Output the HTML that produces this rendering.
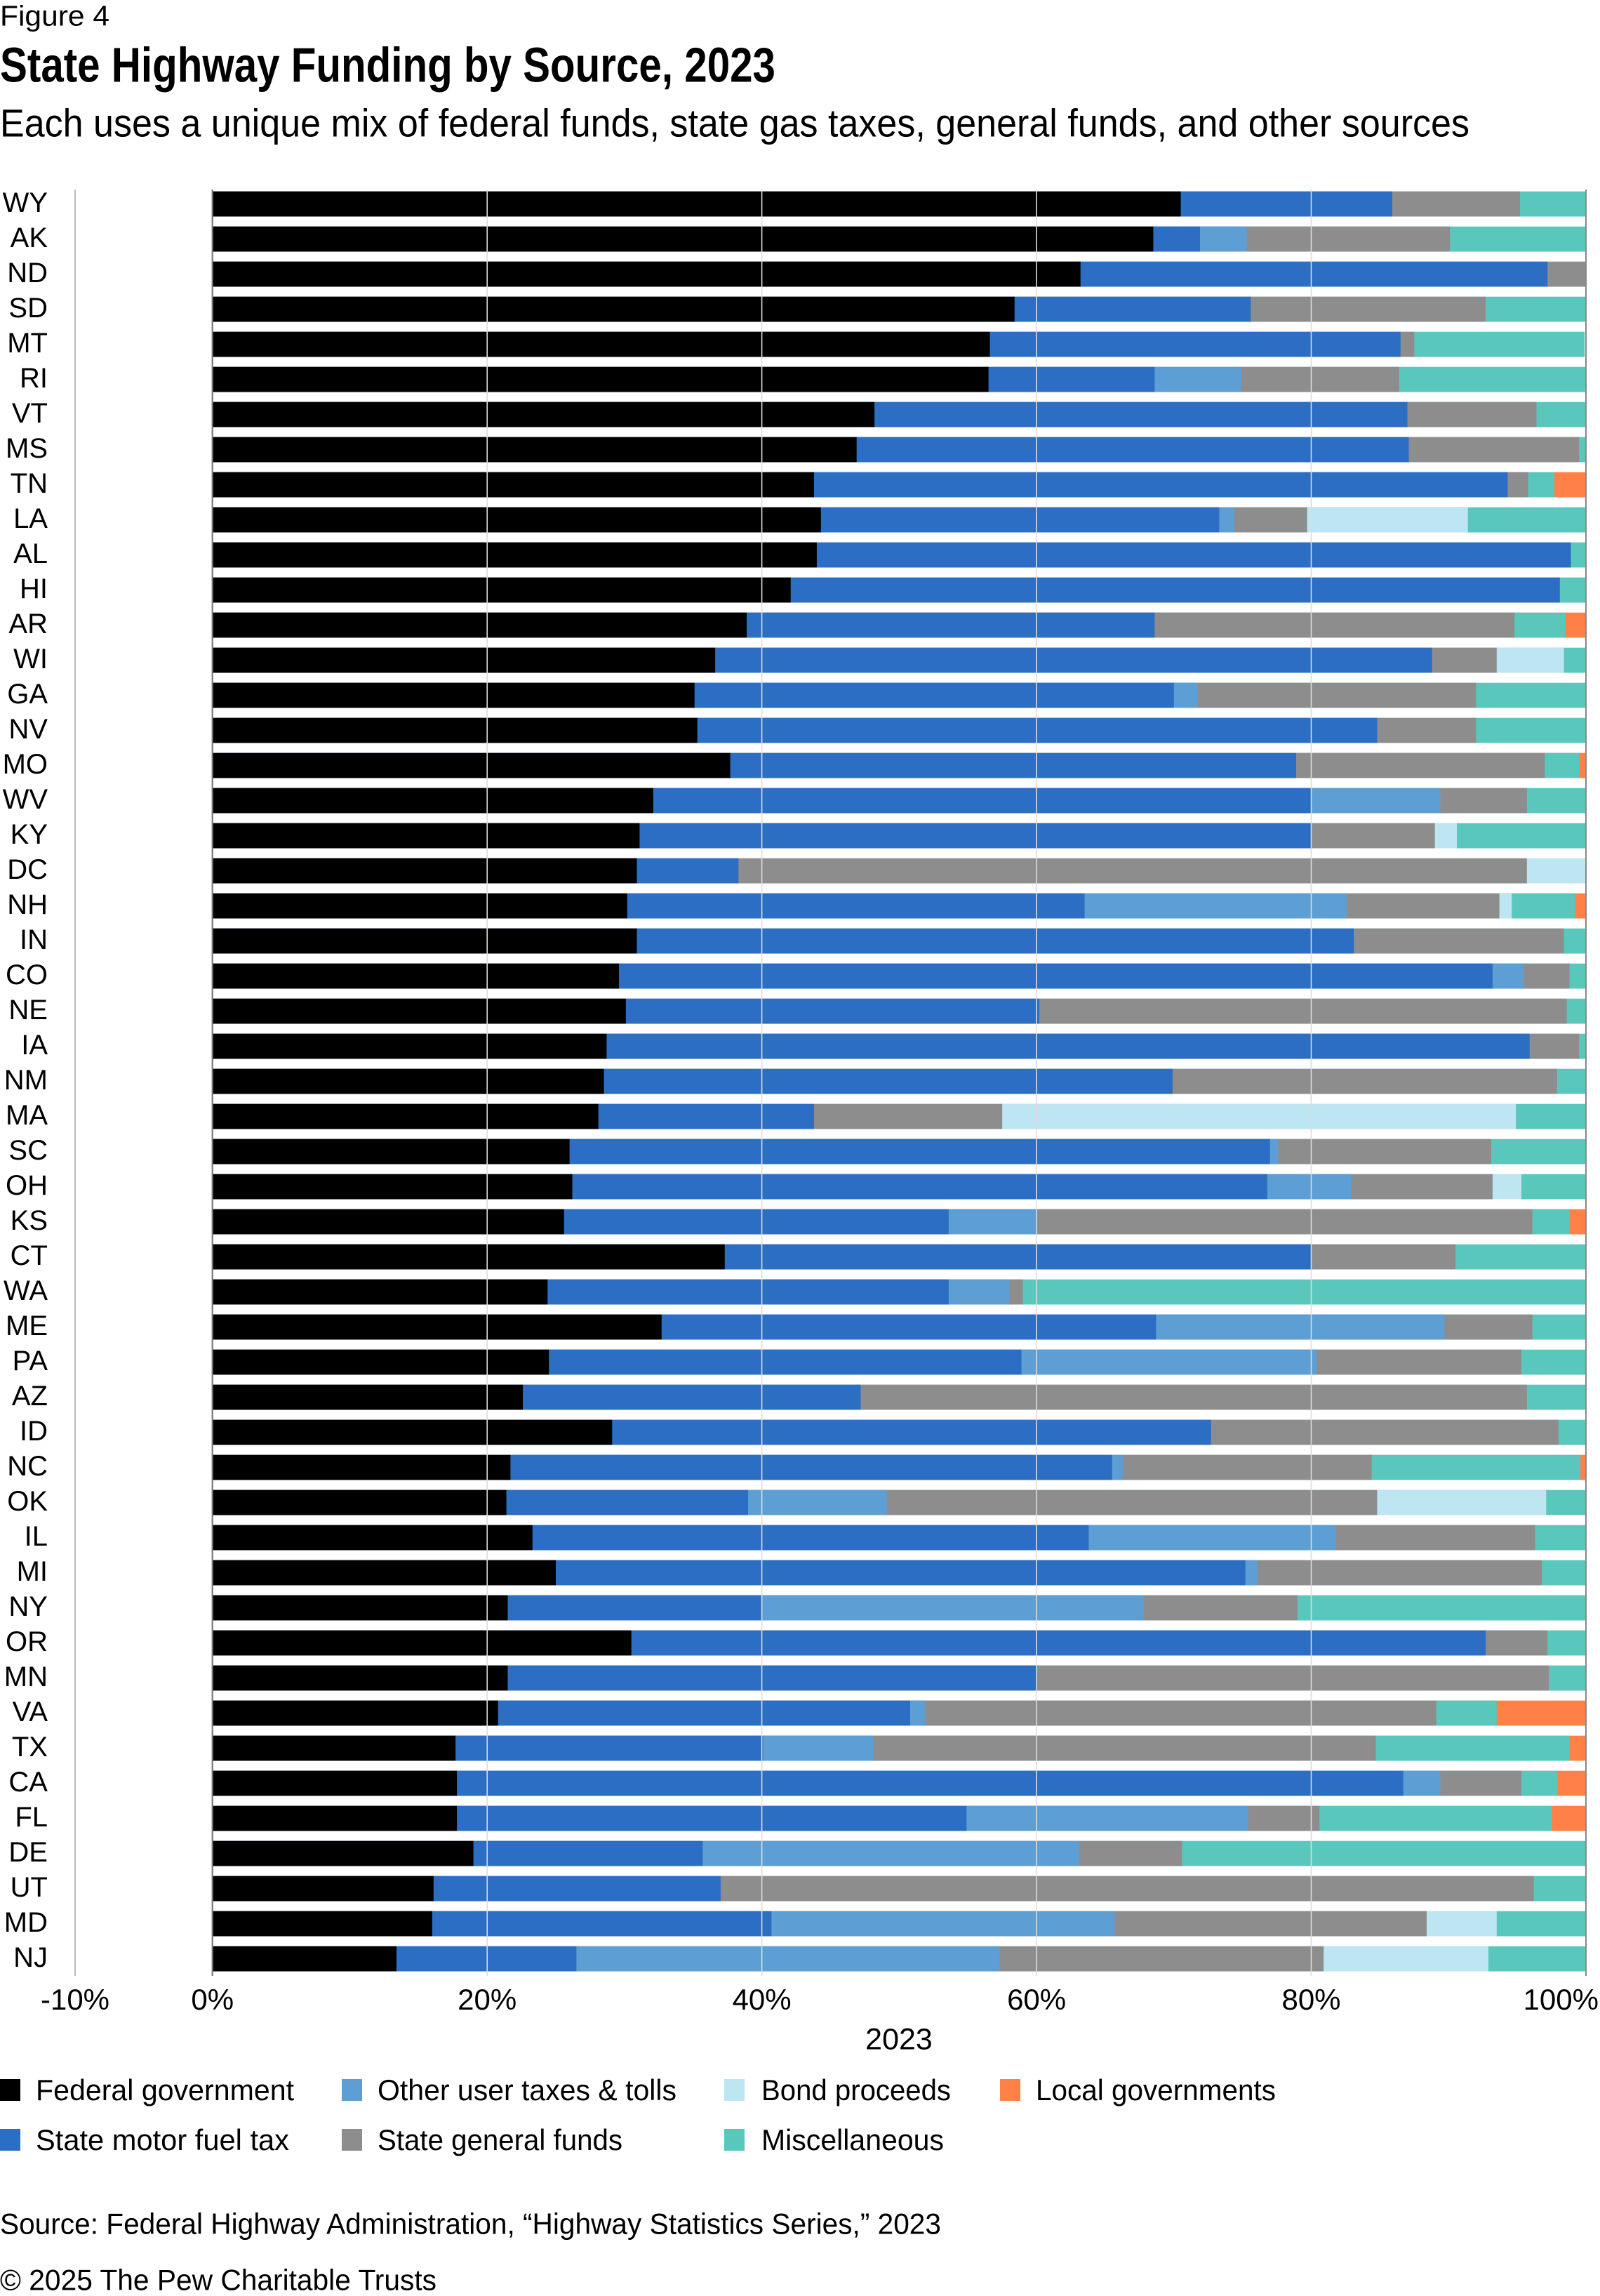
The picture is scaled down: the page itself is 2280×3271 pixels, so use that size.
<!DOCTYPE html>
<html><head><meta charset="utf-8"><style>
html,body{margin:0;padding:0;background:#fff;}
svg{display:block;}
text{font-family:"Liberation Sans",Arial,sans-serif;fill:#000;}
.k{fill:#000}.b{fill:#2B6EC3}.l{fill:#5D9ED4}.g{fill:#8E8D8E}.d{fill:#BDE5F2}.t{fill:#5AC7BC}.o{fill:#FF8148}
.yl text{font-size:40px;text-anchor:end;}
.tk{font-size:42px;text-anchor:middle;}
.lg{font-size:42px;}
</style></head><body>
<svg width="2280" height="3271" viewBox="0 0 2280 3271" xmlns="http://www.w3.org/2000/svg">
<rect x="0" y="0" width="2280" height="3271" fill="#fff"/>
<text x="0" y="36.7" font-size="41" textLength="156" lengthAdjust="spacingAndGlyphs">Figure 4</text>
<text x="0" y="116.5" font-size="70" font-weight="bold" textLength="1105" lengthAdjust="spacingAndGlyphs">State Highway Funding by Source, 2023</text>
<text x="0" y="194.3" font-size="56" textLength="2094" lengthAdjust="spacingAndGlyphs">Each uses a unique mix of federal funds, state gas taxes, general funds, and other sources</text>

<g transform="translate(302.7 0) scale(19.573 1)">
<g transform="translate(0 272.7)"><rect class="t" width="100" height="35.8"/><rect class="g" width="95.2" height="35.8"/><rect class="b" width="85.9" height="35.8"/><rect class="k" width="70.5" height="35.8"/></g>
<g transform="translate(0 322.7)"><rect class="t" width="100" height="35.8"/><rect class="g" width="90.1" height="35.8"/><rect class="l" width="75.3" height="35.8"/><rect class="b" width="71.9" height="35.8"/><rect class="k" width="68.5" height="35.8"/></g>
<g transform="translate(0 372.7)"><rect class="g" width="100" height="35.8"/><rect class="b" width="97.2" height="35.8"/><rect class="k" width="63.2" height="35.8"/></g>
<g transform="translate(0 422.7)"><rect class="t" width="100" height="35.8"/><rect class="g" width="92.7" height="35.8"/><rect class="b" width="75.6" height="35.8"/><rect class="k" width="58.4" height="35.8"/></g>
<g transform="translate(0 472.7)"><rect class="t" width="99.9" height="35.8"/><rect class="g" width="87.5" height="35.8"/><rect class="b" width="86.5" height="35.8"/><rect class="k" width="56.6" height="35.8"/></g>
<g transform="translate(0 522.7)"><rect class="t" width="100" height="35.8"/><rect class="g" width="86.4" height="35.8"/><rect class="l" width="74.9" height="35.8"/><rect class="b" width="68.6" height="35.8"/><rect class="k" width="56.5" height="35.8"/></g>
<g transform="translate(0 572.7)"><rect class="t" width="100" height="35.8"/><rect class="g" width="96.4" height="35.8"/><rect class="b" width="87.0" height="35.8"/><rect class="k" width="48.2" height="35.8"/></g>
<g transform="translate(0 622.7)"><rect class="t" width="100" height="35.8"/><rect class="g" width="99.5" height="35.8"/><rect class="b" width="87.1" height="35.8"/><rect class="k" width="46.9" height="35.8"/></g>
<g transform="translate(0 672.7)"><rect class="o" width="100" height="35.8"/><rect class="t" width="97.7" height="35.8"/><rect class="g" width="95.8" height="35.8"/><rect class="b" width="94.3" height="35.8"/><rect class="k" width="43.8" height="35.8"/></g>
<g transform="translate(0 722.7)"><rect class="t" width="100" height="35.8"/><rect class="d" width="91.4" height="35.8"/><rect class="g" width="79.7" height="35.8"/><rect class="l" width="74.4" height="35.8"/><rect class="b" width="73.3" height="35.8"/><rect class="k" width="44.3" height="35.8"/></g>
<g transform="translate(0 772.7)"><rect class="t" width="100" height="35.8"/><rect class="b" width="98.9" height="35.8"/><rect class="k" width="44.0" height="35.8"/></g>
<g transform="translate(0 822.7)"><rect class="t" width="100" height="35.8"/><rect class="b" width="98.1" height="35.8"/><rect class="k" width="42.1" height="35.8"/></g>
<g transform="translate(0 872.7)"><rect class="o" width="100" height="35.8"/><rect class="t" width="98.5" height="35.8"/><rect class="g" width="94.8" height="35.8"/><rect class="b" width="68.6" height="35.8"/><rect class="k" width="38.9" height="35.8"/></g>
<g transform="translate(0 922.7)"><rect class="t" width="100" height="35.8"/><rect class="d" width="98.4" height="35.8"/><rect class="g" width="93.5" height="35.8"/><rect class="b" width="88.8" height="35.8"/><rect class="k" width="36.6" height="35.8"/></g>
<g transform="translate(0 972.7)"><rect class="t" width="100" height="35.8"/><rect class="g" width="92.0" height="35.8"/><rect class="l" width="71.7" height="35.8"/><rect class="b" width="70.0" height="35.8"/><rect class="k" width="35.1" height="35.8"/></g>
<g transform="translate(0 1022.7)"><rect class="t" width="100" height="35.8"/><rect class="g" width="92.0" height="35.8"/><rect class="b" width="84.8" height="35.8"/><rect class="k" width="35.3" height="35.8"/></g>
<g transform="translate(0 1072.7)"><rect class="o" width="100" height="35.8"/><rect class="t" width="99.5" height="35.8"/><rect class="g" width="97.0" height="35.8"/><rect class="b" width="78.9" height="35.8"/><rect class="k" width="37.7" height="35.8"/></g>
<g transform="translate(0 1122.7)"><rect class="t" width="100" height="35.8"/><rect class="g" width="95.7" height="35.8"/><rect class="l" width="89.4" height="35.8"/><rect class="b" width="80.0" height="35.8"/><rect class="k" width="32.1" height="35.8"/></g>
<g transform="translate(0 1172.7)"><rect class="t" width="100" height="35.8"/><rect class="d" width="90.6" height="35.8"/><rect class="g" width="89.0" height="35.8"/><rect class="b" width="80.0" height="35.8"/><rect class="k" width="31.1" height="35.8"/></g>
<g transform="translate(0 1222.7)"><rect class="d" width="100" height="35.8"/><rect class="g" width="95.7" height="35.8"/><rect class="b" width="38.3" height="35.8"/><rect class="k" width="30.9" height="35.8"/></g>
<g transform="translate(0 1272.7)"><rect class="o" width="100" height="35.8"/><rect class="t" width="99.2" height="35.8"/><rect class="d" width="94.6" height="35.8"/><rect class="g" width="93.7" height="35.8"/><rect class="l" width="82.6" height="35.8"/><rect class="b" width="63.5" height="35.8"/><rect class="k" width="30.2" height="35.8"/></g>
<g transform="translate(0 1322.7)"><rect class="t" width="100" height="35.8"/><rect class="g" width="98.4" height="35.8"/><rect class="b" width="83.1" height="35.8"/><rect class="k" width="30.9" height="35.8"/></g>
<g transform="translate(0 1372.7)"><rect class="t" width="100" height="35.8"/><rect class="g" width="98.8" height="35.8"/><rect class="l" width="95.5" height="35.8"/><rect class="b" width="93.2" height="35.8"/><rect class="k" width="29.6" height="35.8"/></g>
<g transform="translate(0 1422.7)"><rect class="t" width="100" height="35.8"/><rect class="g" width="98.6" height="35.8"/><rect class="b" width="60.2" height="35.8"/><rect class="k" width="30.1" height="35.8"/></g>
<g transform="translate(0 1472.7)"><rect class="t" width="100" height="35.8"/><rect class="g" width="99.5" height="35.8"/><rect class="b" width="95.9" height="35.8"/><rect class="k" width="28.7" height="35.8"/></g>
<g transform="translate(0 1522.7)"><rect class="t" width="100" height="35.8"/><rect class="g" width="97.9" height="35.8"/><rect class="b" width="69.9" height="35.8"/><rect class="k" width="28.5" height="35.8"/></g>
<g transform="translate(0 1572.7)"><rect class="t" width="100" height="35.8"/><rect class="d" width="94.9" height="35.8"/><rect class="g" width="57.5" height="35.8"/><rect class="b" width="43.8" height="35.8"/><rect class="k" width="28.1" height="35.8"/></g>
<g transform="translate(0 1622.7)"><rect class="t" width="100" height="35.8"/><rect class="g" width="93.1" height="35.8"/><rect class="l" width="77.6" height="35.8"/><rect class="b" width="77.0" height="35.8"/><rect class="k" width="26.0" height="35.8"/></g>
<g transform="translate(0 1672.7)"><rect class="t" width="100" height="35.8"/><rect class="d" width="95.3" height="35.8"/><rect class="g" width="93.2" height="35.8"/><rect class="l" width="82.9" height="35.8"/><rect class="b" width="76.8" height="35.8"/><rect class="k" width="26.2" height="35.8"/></g>
<g transform="translate(0 1722.7)"><rect class="o" width="100" height="35.8"/><rect class="t" width="98.8" height="35.8"/><rect class="g" width="96.1" height="35.8"/><rect class="l" width="60.0" height="35.8"/><rect class="b" width="53.6" height="35.8"/><rect class="k" width="25.6" height="35.8"/></g>
<g transform="translate(0 1772.7)"><rect class="t" width="100" height="35.8"/><rect class="g" width="90.5" height="35.8"/><rect class="b" width="80.0" height="35.8"/><rect class="k" width="37.3" height="35.8"/></g>
<g transform="translate(0 1822.7)"><rect class="t" width="100" height="35.8"/><rect class="g" width="59.0" height="35.8"/><rect class="l" width="58.0" height="35.8"/><rect class="b" width="53.6" height="35.8"/><rect class="k" width="24.4" height="35.8"/></g>
<g transform="translate(0 1872.7)"><rect class="t" width="100" height="35.8"/><rect class="g" width="96.1" height="35.8"/><rect class="l" width="89.7" height="35.8"/><rect class="b" width="68.7" height="35.8"/><rect class="k" width="32.7" height="35.8"/></g>
<g transform="translate(0 1922.7)"><rect class="t" width="100" height="35.8"/><rect class="g" width="95.3" height="35.8"/><rect class="l" width="80.4" height="35.8"/><rect class="b" width="58.9" height="35.8"/><rect class="k" width="24.5" height="35.8"/></g>
<g transform="translate(0 1972.7)"><rect class="t" width="100" height="35.8"/><rect class="g" width="95.7" height="35.8"/><rect class="b" width="47.2" height="35.8"/><rect class="k" width="22.6" height="35.8"/></g>
<g transform="translate(0 2022.7)"><rect class="t" width="100" height="35.8"/><rect class="g" width="98.0" height="35.8"/><rect class="b" width="72.7" height="35.8"/><rect class="k" width="29.1" height="35.8"/></g>
<g transform="translate(0 2072.7)"><rect class="o" width="100" height="35.8"/><rect class="t" width="99.6" height="35.8"/><rect class="g" width="84.4" height="35.8"/><rect class="l" width="66.3" height="35.8"/><rect class="b" width="65.5" height="35.8"/><rect class="k" width="21.7" height="35.8"/></g>
<g transform="translate(0 2122.7)"><rect class="t" width="100" height="35.8"/><rect class="d" width="97.1" height="35.8"/><rect class="g" width="84.8" height="35.8"/><rect class="l" width="49.1" height="35.8"/><rect class="b" width="39.0" height="35.8"/><rect class="k" width="21.4" height="35.8"/></g>
<g transform="translate(0 2172.7)"><rect class="t" width="100" height="35.8"/><rect class="g" width="96.3" height="35.8"/><rect class="l" width="81.8" height="35.8"/><rect class="b" width="63.8" height="35.8"/><rect class="k" width="23.3" height="35.8"/></g>
<g transform="translate(0 2222.7)"><rect class="t" width="100" height="35.8"/><rect class="g" width="96.8" height="35.8"/><rect class="l" width="76.1" height="35.8"/><rect class="b" width="75.2" height="35.8"/><rect class="k" width="25.0" height="35.8"/></g>
<g transform="translate(0 2272.7)"><rect class="t" width="100" height="35.8"/><rect class="g" width="79.0" height="35.8"/><rect class="l" width="67.8" height="35.8"/><rect class="b" width="40.0" height="35.8"/><rect class="k" width="21.5" height="35.8"/></g>
<g transform="translate(0 2322.7)"><rect class="t" width="100" height="35.8"/><rect class="g" width="97.2" height="35.8"/><rect class="b" width="92.7" height="35.8"/><rect class="k" width="30.5" height="35.8"/></g>
<g transform="translate(0 2372.7)"><rect class="t" width="100" height="35.8"/><rect class="g" width="97.3" height="35.8"/><rect class="b" width="60.0" height="35.8"/><rect class="k" width="21.5" height="35.8"/></g>
<g transform="translate(0 2422.7)"><rect class="o" width="100" height="35.8"/><rect class="t" width="93.5" height="35.8"/><rect class="g" width="89.1" height="35.8"/><rect class="l" width="51.9" height="35.8"/><rect class="b" width="50.8" height="35.8"/><rect class="k" width="20.8" height="35.8"/></g>
<g transform="translate(0 2472.7)"><rect class="o" width="100" height="35.8"/><rect class="t" width="98.8" height="35.8"/><rect class="g" width="84.7" height="35.8"/><rect class="l" width="48.1" height="35.8"/><rect class="b" width="40.1" height="35.8"/><rect class="k" width="17.7" height="35.8"/></g>
<g transform="translate(0 2522.7)"><rect class="o" width="100" height="35.8"/><rect class="t" width="97.9" height="35.8"/><rect class="g" width="95.3" height="35.8"/><rect class="l" width="89.4" height="35.8"/><rect class="b" width="86.7" height="35.8"/><rect class="k" width="17.8" height="35.8"/></g>
<g transform="translate(0 2572.7)"><rect class="o" width="100" height="35.8"/><rect class="t" width="97.5" height="35.8"/><rect class="g" width="80.6" height="35.8"/><rect class="l" width="75.4" height="35.8"/><rect class="b" width="54.9" height="35.8"/><rect class="k" width="17.8" height="35.8"/></g>
<g transform="translate(0 2622.7)"><rect class="t" width="100" height="35.8"/><rect class="g" width="70.6" height="35.8"/><rect class="l" width="63.1" height="35.8"/><rect class="b" width="35.7" height="35.8"/><rect class="k" width="19.0" height="35.8"/></g>
<g transform="translate(0 2672.7)"><rect class="t" width="100" height="35.8"/><rect class="g" width="96.2" height="35.8"/><rect class="b" width="37.0" height="35.8"/><rect class="k" width="16.1" height="35.8"/></g>
<g transform="translate(0 2722.7)"><rect class="t" width="100" height="35.8"/><rect class="d" width="93.5" height="35.8"/><rect class="g" width="88.4" height="35.8"/><rect class="l" width="65.7" height="35.8"/><rect class="b" width="40.7" height="35.8"/><rect class="k" width="16.0" height="35.8"/></g>
<g transform="translate(0 2772.7)"><rect class="t" width="100" height="35.8"/><rect class="d" width="92.9" height="35.8"/><rect class="g" width="80.9" height="35.8"/><rect class="l" width="57.3" height="35.8"/><rect class="b" width="26.5" height="35.8"/><rect class="k" width="13.4" height="35.8"/></g>
</g>

<!-- gridlines -->
<g stroke-width="1.6" fill="none">
<line x1="107" y1="270" x2="107" y2="2815" stroke="#a8a8a8"/>
<line x1="694.2" y1="270" x2="694.2" y2="2815" stroke="#dcdcdc"/>
<line x1="1085.6" y1="270" x2="1085.6" y2="2815" stroke="#dcdcdc"/>
<line x1="1477.1" y1="270" x2="1477.1" y2="2815" stroke="#dcdcdc"/>
<line x1="1868.5" y1="270" x2="1868.5" y2="2815" stroke="#dcdcdc"/>
<line x1="302.7" y1="270" x2="302.7" y2="2815" stroke="#777" stroke-width="2.2"/>
<line x1="2260" y1="270" x2="2260" y2="2815" stroke="#888" stroke-width="2"/>
</g>

<g class="yl">
<text x="68" y="302">WY</text><text x="68" y="352">AK</text><text x="68" y="402">ND</text><text x="68" y="452">SD</text>
<text x="68" y="502">MT</text><text x="68" y="552">RI</text><text x="68" y="602">VT</text><text x="68" y="652">MS</text>
<text x="68" y="702">TN</text><text x="68" y="752">LA</text><text x="68" y="802">AL</text><text x="68" y="852">HI</text>
<text x="68" y="902">AR</text><text x="68" y="952">WI</text><text x="68" y="1002">GA</text><text x="68" y="1052">NV</text>
<text x="68" y="1102">MO</text><text x="68" y="1152">WV</text><text x="68" y="1202">KY</text><text x="68" y="1252">DC</text>
<text x="68" y="1302">NH</text><text x="68" y="1352">IN</text><text x="68" y="1402">CO</text><text x="68" y="1452">NE</text>
<text x="68" y="1502">IA</text><text x="68" y="1552">NM</text><text x="68" y="1602">MA</text><text x="68" y="1652">SC</text>
<text x="68" y="1702">OH</text><text x="68" y="1752">KS</text><text x="68" y="1802">CT</text><text x="68" y="1852">WA</text>
<text x="68" y="1902">ME</text><text x="68" y="1952">PA</text><text x="68" y="2002">AZ</text><text x="68" y="2052">ID</text>
<text x="68" y="2102">NC</text><text x="68" y="2152">OK</text><text x="68" y="2202">IL</text><text x="68" y="2252">MI</text>
<text x="68" y="2302">NY</text><text x="68" y="2352">OR</text><text x="68" y="2402">MN</text><text x="68" y="2452">VA</text>
<text x="68" y="2502">TX</text><text x="68" y="2552">CA</text><text x="68" y="2602">FL</text><text x="68" y="2652">DE</text>
<text x="68" y="2702">UT</text><text x="68" y="2752">MD</text><text x="68" y="2802">NJ</text>
</g>

<text class="tk" x="107" y="2863">-10%</text>
<text class="tk" x="302.7" y="2863">0%</text>
<text class="tk" x="694.2" y="2863">20%</text>
<text class="tk" x="1085.6" y="2863">40%</text>
<text class="tk" x="1477.1" y="2863">60%</text>
<text class="tk" x="1868.5" y="2863">80%</text>
<text x="2278" y="2863" font-size="42" text-anchor="end">100%</text>
<text x="1281" y="2919.6" font-size="43" text-anchor="middle">2023</text>

<!-- legend -->
<rect x="0" y="2962" width="29" height="31" class="k"/>
<text class="lg" x="51" y="2992" textLength="368" lengthAdjust="spacingAndGlyphs">Federal government</text>
<rect x="487" y="2962" width="29" height="31" class="l"/>
<text class="lg" x="538" y="2992" textLength="426" lengthAdjust="spacingAndGlyphs">Other user taxes &amp; tolls</text>
<rect x="1032" y="2962" width="29" height="31" class="d"/>
<text class="lg" x="1085" y="2992" textLength="270" lengthAdjust="spacingAndGlyphs">Bond proceeds</text>
<rect x="1425" y="2962" width="29" height="31" class="o"/>
<text class="lg" x="1476" y="2992" textLength="342" lengthAdjust="spacingAndGlyphs">Local governments</text>

<rect x="0" y="3033" width="29" height="31" class="b"/>
<text class="lg" x="51" y="3063" textLength="361" lengthAdjust="spacingAndGlyphs">State motor fuel tax</text>
<rect x="487" y="3033" width="29" height="31" class="g"/>
<text class="lg" x="538" y="3063" textLength="349" lengthAdjust="spacingAndGlyphs">State general funds</text>
<rect x="1032" y="3033" width="29" height="31" class="t"/>
<text class="lg" x="1085" y="3063" textLength="260" lengthAdjust="spacingAndGlyphs">Miscellaneous</text>

<text x="0" y="3182.5" font-size="42" textLength="1341" lengthAdjust="spacingAndGlyphs">Source: Federal Highway Administration, “Highway Statistics Series,” 2023</text>
<text x="0" y="3262.6" font-size="42" textLength="622" lengthAdjust="spacingAndGlyphs">© 2025 The Pew Charitable Trusts</text>
</svg>
</body></html>
